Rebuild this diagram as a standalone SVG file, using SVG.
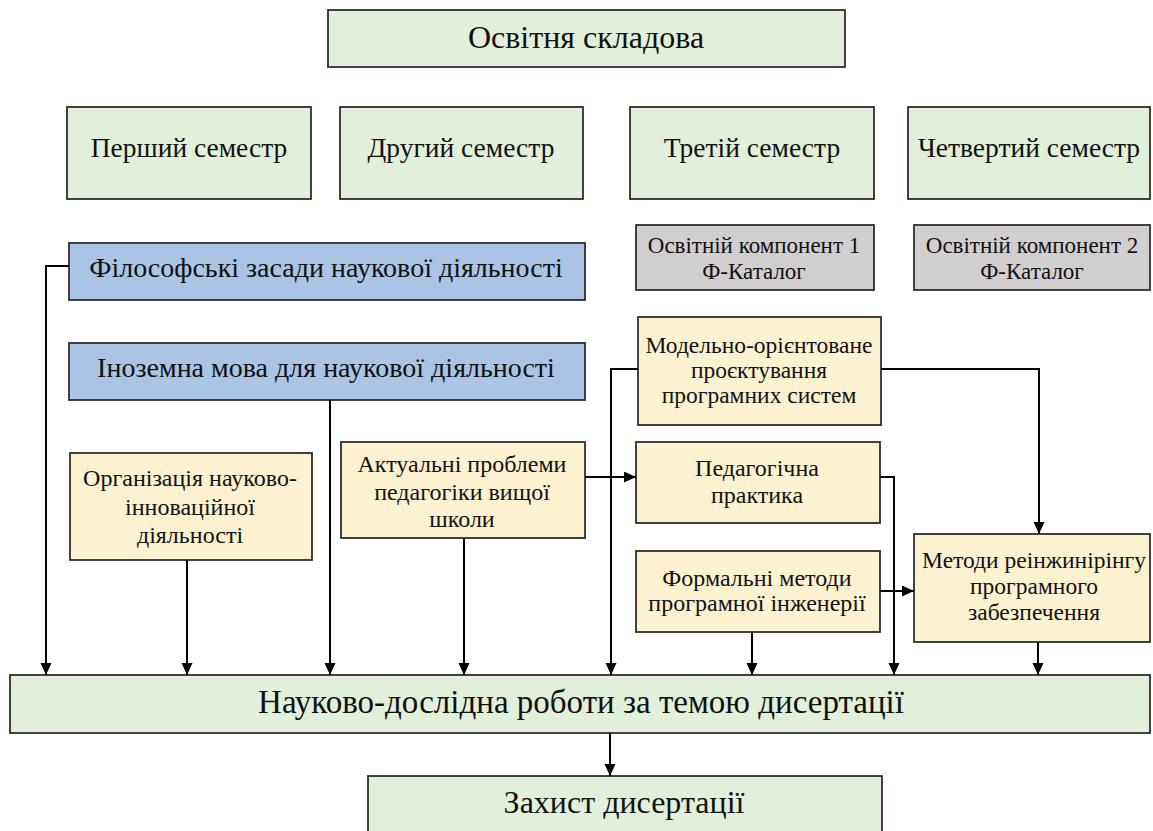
<svg xmlns="http://www.w3.org/2000/svg" width="1153" height="831" viewBox="0 0 1153 831">
<defs>
<marker id="ah" markerUnits="userSpaceOnUse" markerWidth="13" markerHeight="12" refX="12" refY="5.5" orient="auto">
<path d="M0,0 L12,5.5 L0,11 z" fill="#000"/>
</marker>
<style>
.n rect{stroke:#2e2e2e;stroke-width:1.8}
.g{fill:#e2efda}
.b{fill:#a9c4e5}
.y{fill:#fdf2d0}
.s{fill:#d0cece}
text{font-family:'Liberation Serif','Times New Roman',serif;fill:#111;text-anchor:middle}
.t32{font-size:32px}
.t33{font-size:33px}
.t28{font-size:28px}
.t275{font-size:27.5px}
.t24{font-size:24px}
.t235{font-size:23.5px}
.t23{font-size:23px}
.c path{fill:none;stroke:#000;stroke-width:2}
</style>
</defs>
<rect width="1153" height="831" fill="#fff"/>

<g class="n">
<g id="osvitnia">
<rect class="g" x="328" y="10" width="517" height="57"/>
<text class="t32" x="586" y="48">Освітня складова</text>
</g>
<g id="sem1">
<rect class="g" x="67" y="107" width="244" height="92"/>
<text class="t275" x="189" y="157">Перший семестр</text>
</g>
<g id="sem2">
<rect class="g" x="340" y="107" width="243" height="92"/>
<text class="t275" x="461" y="157">Другий семестр</text>
</g>
<g id="sem3">
<rect class="g" x="630" y="107" width="244" height="92"/>
<text class="t275" x="752" y="157">Третій семестр</text>
</g>
<g id="sem4">
<rect class="g" x="908" y="107" width="242" height="92"/>
<text class="t275" x="1029" y="157">Четвертий семестр</text>
</g>
<g id="komp1">
<rect class="s" x="636" y="225" width="238" height="65"/>
<text class="t23" x="754" y="253">Освітній компонент 1</text>
<text class="t23" x="754" y="279">Ф-Каталог</text>
</g>
<g id="komp2">
<rect class="s" x="914" y="225" width="236" height="65"/>
<text class="t23" x="1032" y="253">Освітній компонент 2</text>
<text class="t23" x="1032" y="279">Ф-Каталог</text>
</g>
<g id="filosof">
<rect class="b" x="69" y="243" width="516" height="57"/>
<text class="t28" x="326" y="277">Філософські засади наукової діяльності</text>
</g>
<g id="inozemna">
<rect class="b" x="69" y="343" width="516" height="57"/>
<text class="t28" x="326" y="377">Іноземна мова для наукової діяльності</text>
</g>
<g id="orhanizatsiia">
<rect class="y" x="70" y="453" width="242" height="107"/>
<text class="t24" x="190" y="486">Організація науково-</text>
<text class="t24" x="190" y="515">інноваційної</text>
<text class="t24" x="190" y="543">діяльності</text>
</g>
<g id="aktualni">
<rect class="y" x="341" y="442" width="244" height="96"/>
<text class="t24" x="462" y="472">Актуальні проблеми</text>
<text class="t24" x="462" y="500">педагогіки вищої</text>
<text class="t24" x="462" y="527">школи</text>
</g>
<g id="modelno">
<rect class="y" x="638" y="317" width="243" height="108"/>
<text class="t235" x="759" y="353">Модельно-орієнтоване</text>
<text class="t235" x="759" y="378">проєктування</text>
<text class="t235" x="759" y="403">програмних систем</text>
</g>
<g id="pedpraktyka">
<rect class="y" x="636" y="442" width="244" height="81"/>
<text class="t24" x="757" y="476">Педагогічна</text>
<text class="t24" x="757" y="503">практика</text>
</g>
<g id="formalni">
<rect class="y" x="636" y="551" width="244" height="81"/>
<text class="t24" x="757" y="586">Формальні методи</text>
<text class="t24" x="757" y="611">програмної інженерії</text>
</g>
<g id="metody">
<rect class="y" x="914" y="534" width="236" height="108"/>
<text class="t235" x="1034" y="568">Методи реінжинірінгу</text>
<text class="t235" x="1034" y="594">програмного</text>
<text class="t235" x="1034" y="620">забезпечення</text>
</g>
<g id="nauk">
<rect class="g" x="10" y="675" width="1140" height="58"/>
<text class="t33" x="581" y="713">Науково-дослідна роботи за темою дисертації</text>
</g>
<g id="zakhyst">
<rect class="g" x="368" y="776" width="514" height="70"/>
<text class="t32" x="624" y="813">Захист дисертації</text>
</g>
</g>

<g id="connectors" class="c">
<path d="M69,266 H46 V675" marker-end="url(#ah)"/>
<path d="M187,560 V675" marker-end="url(#ah)"/>
<path d="M330,400 V675" marker-end="url(#ah)"/>
<path d="M464,538 V675" marker-end="url(#ah)"/>
<path d="M585,477 H636" marker-end="url(#ah)"/>
<path d="M638,369 H611 V675" marker-end="url(#ah)"/>
<path d="M881,369 H1039 V534" marker-end="url(#ah)"/>
<path d="M880,477 H894 V675" marker-end="url(#ah)"/>
<path d="M880,591 H914" marker-end="url(#ah)"/>
<path d="M752,632 V675" marker-end="url(#ah)"/>
<path d="M1038,642 V675" marker-end="url(#ah)"/>
<path d="M610,733 V776" marker-end="url(#ah)"/>
</g>
</svg>
